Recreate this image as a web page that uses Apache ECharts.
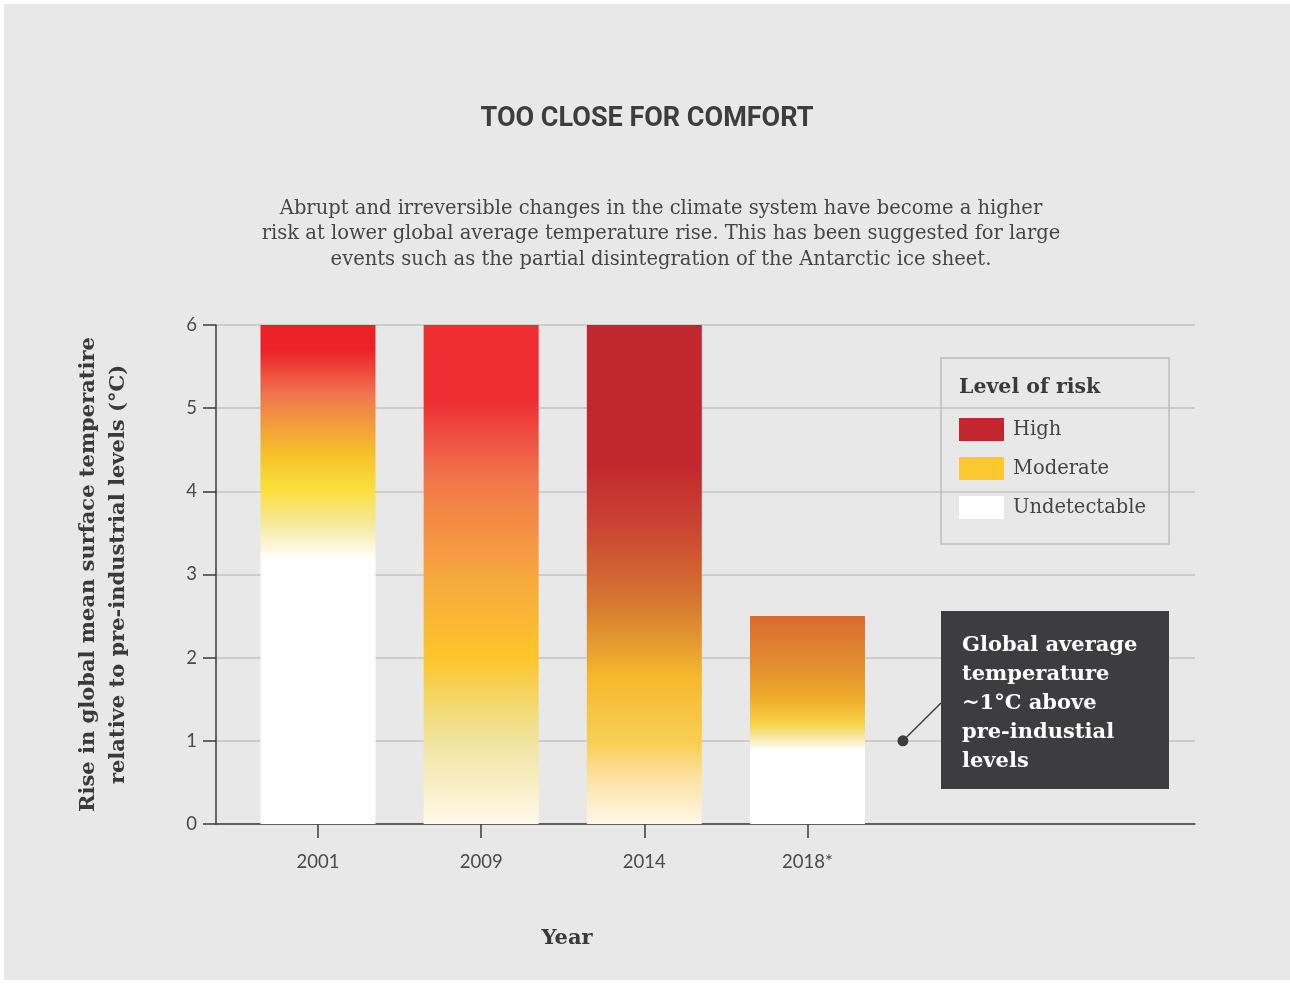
<!DOCTYPE html>
<html>
<head>
<meta charset="utf-8">
<script src="https://cdn.jsdelivr.net/npm/echarts@6/dist/echarts.min.js"></script>
<style>
  html, body { margin: 0; padding: 0; background: #ffffff; }
  #bg { position: absolute; left: 4px; top: 4px; width: 1286px; height: 976px; background: #e8e8e8; }
  #chart { position: absolute; left: 0; top: 0; width: 1290px; height: 984px; }
</style>
</head>
<body>
<div id="bg"></div>
<div id="chart"></div>
<script>
// ---------- DATA ----------
const years = ['2001', '2009', '2014', '2018*'];
const barTops = [6, 6, 6, 2.5];
const yTicks = [0, 1, 2, 3, 4, 5, 6];

// risk gradient: values (°C) where colour stops sit, top to bottom
const levels2001 = [6, 5.7, 5.18, 4.46, 4.02, 3.62, 3.22, 3.2, 0];
const levels2009 = [6, 5.1, 4.58, 4.1, 3.57, 2.97, 2.0, 1.37, 0.97, 0];
const levels2014 = [6, 4.34, 3.53, 2.66, 2.18, 1.77, 0.97, 0.57, 0];
const levels2018 = [2.5, 1.89, 1.49, 1.21, 1.05, 0.9, 0.89, 0];

const legendNames = ['High', 'Moderate', 'Undetectable'];
const annotationValue = 1;   // ~1°C today
const annotationText = 'Global average\ntemperature\n~1°C above\npre-industial\nlevels';

// ---------- STYLE ----------
const colors2001 = ['#EC2227', '#EC2227', '#F07350', '#F6C02A', '#FBE03A', '#F5E79A', '#FFFDF6', '#FFFFFF', '#FFFFFF'];
const colors2009 = ['#EE2E31', '#EE2E31', '#EF5545', '#F2784A', '#F38F45', '#F6A83E', '#FDC52A', '#F2DB77', '#F1E3A0', '#FFF9E8'];
const colors2014 = ['#C1272F', '#C1272F', '#CB4733', '#D67831', '#E49A30', '#F6B82E', '#F8CF55', '#FCE09E', '#FFF8E8'];
const colors2018 = ['#D96A30', '#E38F30', '#F0AD2C', '#F7D444', '#F6E6A0', '#FFFDF8', '#FFFFFF', '#FFFFFF'];
const legendColors = ['#C4262E', '#FBC92D', '#FFFFFF'];

const allLevels = [levels2001, levels2009, levels2014, levels2018];
const allColors = [colors2001, colors2009, colors2014, colors2018];

const SERIF = "'DejaVu Serif', serif";
const SANS = "Lato, 'Open Sans', sans-serif";
const AXIS_C = '#3a3a3a';
const ANNOT_X = 3.585;

function gradientFor(i) {
  const top = barTops[i];
  return {
    type: 'linear', x: 0, y: 0, x2: 0, y2: 1,
    colorStops: allLevels[i].map((v, k) => ({ offset: (top - v) / top, color: allColors[i][k] }))
  };
}

const chart = echarts.init(document.getElementById('chart'), null, { renderer: 'canvas' });

const option = {
  backgroundColor: 'transparent',
  animation: false,
  title: [
    {
      text: 'TOO CLOSE FOR COMFORT',
      left: 647, top: 106, textAlign: 'center', padding: 0,
      textStyle: { fontFamily: "Roboto, sans-serif", fontWeight: 'bold', fontSize: 27, color: '#3d3d3d' }
    },
    {
      text: 'Abrupt and irreversible changes in the climate system have become a higher\nrisk at lower global average temperature rise. This has been suggested for large\nevents such as the partial disintegration of the Antarctic ice sheet.',
      left: 661, top: 196, textAlign: 'center', padding: 0,
      textStyle: { fontFamily: SERIF, fontWeight: 'normal', fontSize: 19.5, lineHeight: 25.5, color: '#454545' }
    },
    {
      text: 'Level of risk',
      left: 959, top: 377, padding: 0,
      textStyle: { fontFamily: SERIF, fontWeight: 'bold', fontSize: 20.5, color: '#3a3a3a' }
    },
    {
      text: 'Year',
      left: 567, top: 928, textAlign: 'center', padding: 0,
      textStyle: { fontFamily: SERIF, fontWeight: 'bold', fontSize: 21, color: '#3a3a3a' }
    }
  ],
  legend: {
    orient: 'vertical',
    left: 941, top: 358,
    padding: [60, 23, 25, 18],
    borderColor: '#bdbdbd', borderWidth: 1.5,
    itemWidth: 45, itemHeight: 23, itemGap: 16,
    icon: 'rect',
    data: legendNames,
    selectedMode: false,
    itemStyle: { opacity: 1 },
    textStyle: { fontFamily: SERIF, fontSize: 19.5, color: '#444', padding: [0, 0, 0, 4] }
  },
  grid: { left: 216, right: 95, top: 325, bottom: 160 },
  xAxis: {
    type: 'value',
    min: -0.625, max: 5.375,
    axisLine: { show: true, onZero: false, lineStyle: { color: AXIS_C, width: 1.5 } },
    axisTick: { show: true, customValues: years.map((y, i) => i), length: 14, lineStyle: { color: AXIS_C, width: 1.5 } },
    axisLabel: {
      customValues: years.map((y, i) => i),
      formatter: v => years[Math.round(v)] || '',
      margin: 29, fontFamily: SANS, fontSize: 18.5, color: '#4a4a4a'
    },
    splitLine: { show: false }
  },
  yAxis: {
    type: 'value',
    min: 0, max: 6, interval: 1,
    name: 'Rise in global mean surface temperatire\nrelative to pre-industrial levels (°C)',
    nameLocation: 'middle', nameRotate: 90, nameGap: 82,
    nameTextStyle: { fontFamily: SERIF, fontWeight: 'bold', fontSize: 21, lineHeight: 30, color: '#3a3a3a', align: 'center' },
    axisLine: { show: true, onZero: false, lineStyle: { color: AXIS_C, width: 1.5 } },
    axisTick: { show: true, length: 13, lineStyle: { color: AXIS_C, width: 1.5 } },
    axisLabel: { margin: 19, fontFamily: SANS, fontSize: 18.5, color: '#4a4a4a', formatter: v => yTicks.includes(v) ? String(v) : '' },
    splitLine: { show: true, lineStyle: { color: '#c4c4c4', width: 1.5 } }
  },
  series: [
    {
      type: 'bar',
      name: 'Risk',
      barWidth: 115,
      z: 3,
      data: years.map((y, i) => ({ value: [i, barTops[i]], itemStyle: { color: gradientFor(i) } }))
    },
    ...legendNames.map((n, i) => ({ type: 'scatter', name: n, data: [], itemStyle: { color: legendColors[i], opacity: 1 } })),
    {
      type: 'scatter',
      name: 'Now',
      symbolSize: 11,
      z: 5,
      itemStyle: { color: '#3d3d3f', opacity: 1 },
      data: [[ANNOT_X, annotationValue]]
    }
  ]
};
chart.setOption(option);

// annotation box + connector
const boxX = 941, boxY = 611, boxW = 228, boxH = 178;
const dot = chart.convertToPixel({ gridIndex: 0 }, [ANNOT_X, annotationValue]);
chart.setOption({
  graphic: [
    {
      type: 'line', z: 4,
      shape: { x1: dot[0], y1: dot[1], x2: boxX, y2: 703 },
      style: { stroke: '#3d3d3f', lineWidth: 1.5 }
    },
    {
      type: 'rect', z: 4,
      shape: { x: boxX, y: boxY, width: boxW, height: boxH },
      style: { fill: '#3d3d3f' }
    },
    {
      type: 'text', z: 5,
      x: 962, y: 631,
      style: {
        text: annotationText,
        fill: '#ffffff',
        font: "bold 21px 'DejaVu Serif', serif",
        lineHeight: 29,
        verticalAlign: 'top'
      }
    }
  ]
});
</script>
</body>
</html>
